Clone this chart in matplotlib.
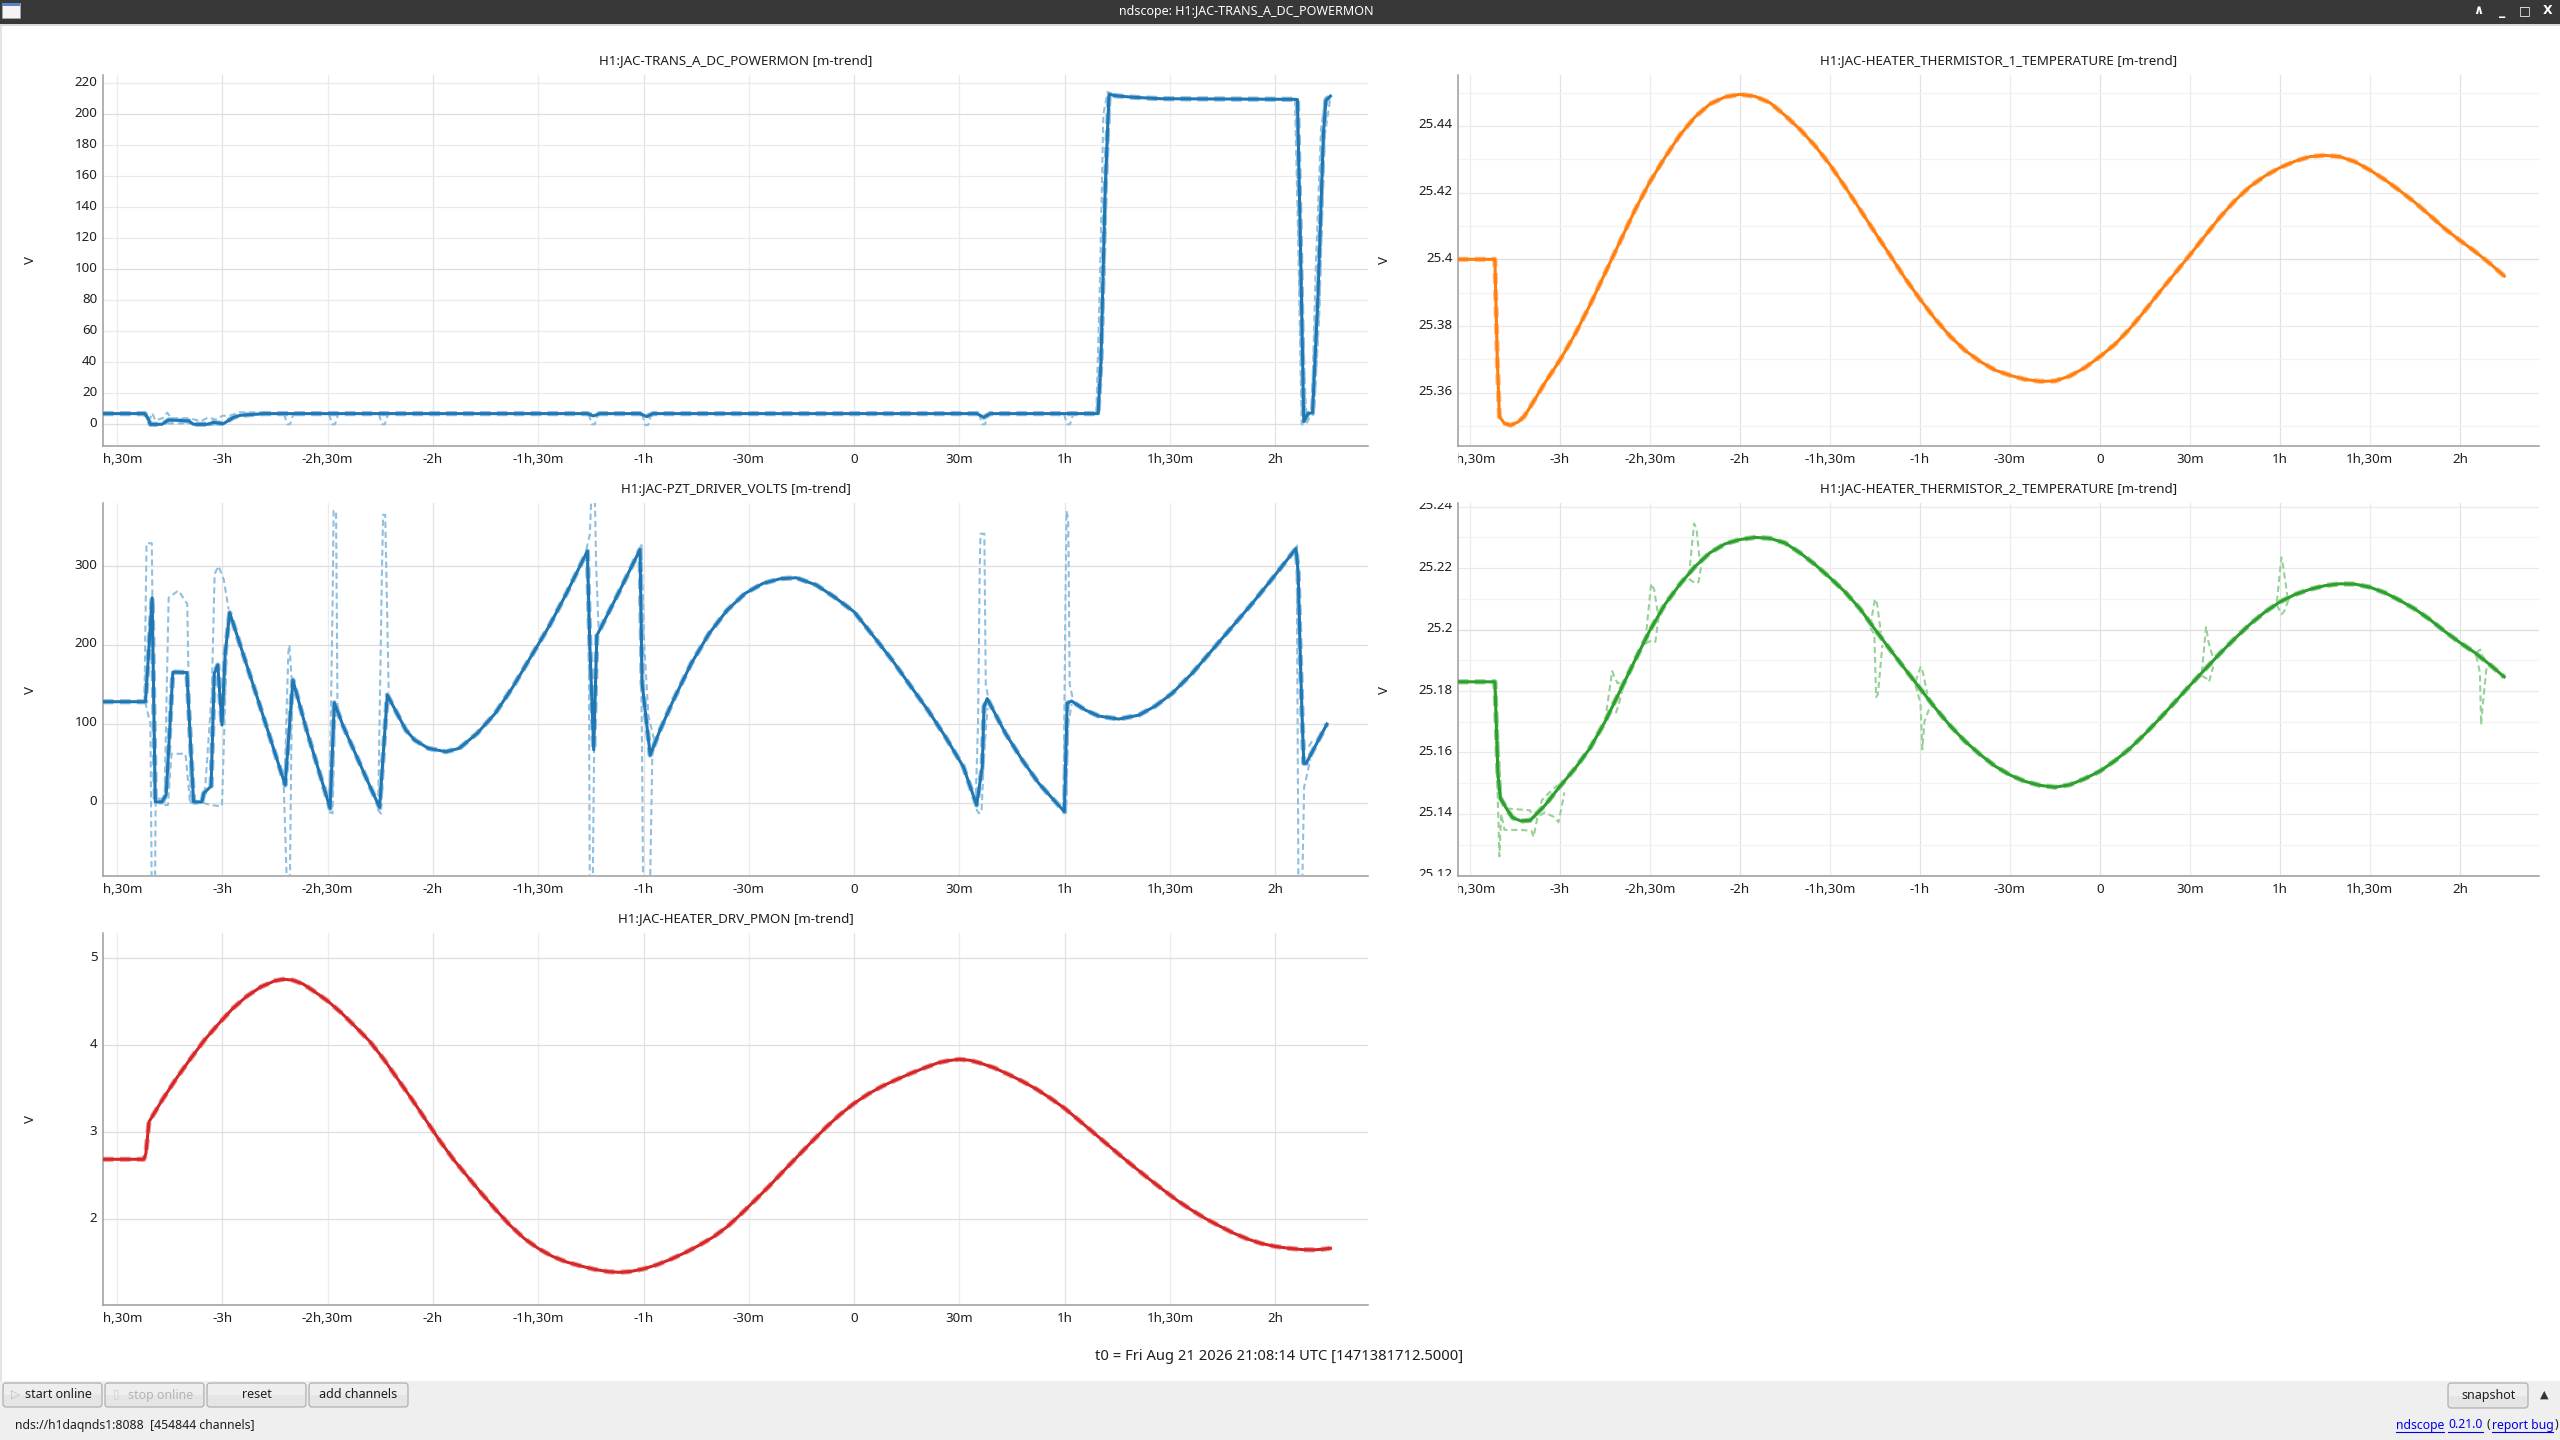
import matplotlib
matplotlib.use("Agg")
import matplotlib.pyplot as plt
import matplotlib.transforms as mtransforms
from matplotlib.patches import Rectangle, FancyBboxPatch
from matplotlib.lines import Line2D

# ------------------------------------------------------------------
# DATA  (time axis in minutes relative to t0)
# ------------------------------------------------------------------
xtick_pos = [-210, -180, -150, -120, -90, -60, -30, 0, 30, 60, 90, 120]
xtick_lab = ['-3h,30m', '-3h', '-2h,30m', '-2h', '-1h,30m', '-1h', '-30m', '0',
             '30m', '1h', '1h,30m', '2h']
x_hours = [-180, -120, -60, 0, 60, 120]
x_halfhours = [-210, -150, -90, -30, 30, 90]

# ---- H1:JAC-TRANS_A_DC_POWERMON ----
trans_t = [-214.0, -202.1, -201.2, -200.5, -197.2, -195.3, -189.6, -188.2, -184.4, -182.5,
           -179.7, -176.8, -174.9, -168.3, -76.0, -74.3, -72.5, -61.0, -59.1, -57.3,
           35.0, 36.9, 38.8, 69.5, 70.3, 71.5, 72.6, 74.6, 79.7, 87.3,
           125.5, 126.3, 127.0, 128.1, 129.3, 130.6, 132.1, 133.7, 134.4, 135.7]
trans_mean = [6.9, 6.9, 4.0, 0.0, 0.0, 2.8, 2.2, 0.0, 0.0, 1.2,
              0.4, 4.5, 5.8, 6.9, 6.9, 5.4, 6.9, 6.9, 5.0, 6.9,
              6.9, 4.5, 6.9, 6.9, 40.0, 150.0, 212.9, 212.0, 211.0, 210.1,
              209.7, 209.5, 134.0, 1.7, 7.0, 7.4, 80.0, 187.7, 209.0, 211.8]
trans_hi_spikes = [
    ([-202.5, -201.4, -200.9, -200.0, -199.1, -197.0, -195.7, -194.5, -189.5, -186.0,
      -184.0, -182.0, -180.0, -178.0, -175.0, -168.3],
     [7.3, 5.5, 2.0, 7.3, 2.5, 4.0, 7.5, 3.9, 3.9, 2.0, 4.5, 3.0, 5.5, 5.5, 7.7, 7.7]),
    ([69.0, 70.0, 71.0, 72.2, 74.0], [7.3, 90.0, 200.0, 214.5, 213.0]),
    ([125.9, 126.9, 128.3, 128.8, 130.4, 131.5, 133.0, 134.2, 135.5],
     [210.5, 150.0, 30.0, 8.0, 8.0, 100.0, 190.0, 210.5, 212.8]),
]
trans_lo_spikes = [
    ([-202.0, -200.8, -195.5, -189.0, -184.0, -180.0, -178.0, -175.0, -168.3],
     [6.5, -0.5, 0.5, 0.5, -0.4, -0.4, 3.0, 5.5, 6.5]),
    ([-162.4, -161.5, -160.7, -159.8], [6.5, 0.0, 0.0, 6.5]),
    ([-149.6, -148.7, -147.9, -147.0], [6.5, 0.0, 0.0, 6.5]),
    ([-135.4, -134.5, -133.7, -132.8], [6.5, 0.0, 0.0, 6.5]),
    ([-75.6, -74.7, -73.9, -73.0], [6.5, 0.0, 0.0, 6.5]),
    ([-60.4, -59.5, -58.7, -57.8], [6.5, -0.5, -0.5, 6.5]),
    ([35.6, 36.5, 37.3, 38.2], [6.5, 0.0, 0.0, 6.5]),
    ([59.8, 60.7, 61.5, 62.4], [6.5, 0.0, 0.0, 6.5]),
    ([69.8, 70.8, 72.0, 73.0], [6.6, 50.0, 160.0, 211.5]),
    ([125.6, 126.5, 127.5, 128.8, 129.8, 131.0, 132.5, 134.0, 135.7],
     [209.2, 120.0, 0.0, 0.0, 5.0, 6.5, 70.0, 185.0, 211.0]),
]

# ---- H1:JAC-PZT_DRIVER_VOLTS ----
pzt_t = [-214.0, -201.9, -200.0, -199.1, -197.2, -196.0, -194.1, -190.1, -188.2, -185.8,
         -185.3, -183.2, -182.3, -181.3, -180.1, -179.2, -177.9, -170.1, -162.1, -159.9,
         -156.0, -152.0, -149.3, -148.1, -145.5, -141.7, -137.9, -135.2, -133.0, -130.2,
         -127.7, -125.2, -121.3, -116.3, -112.5, -107.4, -102.3, -97.2, -92.1, -87.0,
         -82.0, -76.0, -75.3, -74.2, -73.3, -67.0, -61.0, -60.4, -58.1, -55.3,
         -51.5, -46.4, -41.3, -36.2, -31.1, -26.0, -21.0, -16.5, -10.8, -5.7,
         0.0, 5.7, 10.8, 15.9, 21.0, 26.0, 31.1, 34.9, 36.5, 37.0,
         37.9, 43.1, 47.9, 52.6, 59.9, 60.7, 61.9, 65.9, 69.7, 75.4,
         81.1, 85.8, 90.6, 96.3, 102.0, 107.7, 113.4, 119.1, 125.9, 126.5,
         127.2, 127.6, 128.1, 128.8, 134.7]
pzt_mean = [128, 128, 260, 1, 1, 10, 165.6, 165, 1, 1,
            11.8, 21, 164, 174.5, 98.4, 189, 240.8, 134, 22.4, 155.4,
            92, 33, -7.2, 126.7, 96.3, 58.3, 20.3, -6, 136.5, 113,
            92, 79.4, 68.9, 64.6, 68.9, 87.9, 113, 147, 185, 223,
            265, 319, 200, 67, 212, 267, 321, 151, 60.4, 92,
            130, 176.6, 214.6, 244, 265.3, 278, 284, 285.2, 276, 261,
            242, 210, 181, 149, 117.4, 83.6, 45.6, -3, 45.6, 121.7,
            132, 88, 54, 24.5, -11.4, 126, 128.9, 117.4, 109.8, 106,
            111, 122.5, 138.6, 164, 193.5, 223, 252.6, 284, 322.3, 292,
            172, 113, 50, 50, 99.7]
pzt_hi_spikes = [
    ([-202.2, -201.6, -200.1, -199.3, -197.2], [128, 329, 329, 5, 5]),
    ([-196.5, -195.3, -192.5, -190.0, -189.0, -186.0], [0, 260, 269, 252, 0, 0]),
    ([-186.0, -185.0, -183.0, -182.2, -181.1, -179.6, -178.2], [0, 12, 140, 290, 300, 283, 245]),
    ([-162.3, -161.2, -160.9, -160.3, -159.6], [23, 190, 200, 160, 150]),
    ([-149.5, -148.6, -148.3, -147.6, -147.2, -146.5], [-5, 250, 370, 370, 125, 110]),
    ([-135.6, -134.5, -134.2, -133.6, -132.6], [-4, 300, 365, 365, 140]),
    ([-76.3, -75.3, -74.6, -74.0, -73.5, -72.8], [321, 340, 420, 420, 300, 220]),
    ([-61.3, -60.6, -59.8, -58.6, -57.0], [318, 329, 200, 110, 80]),
    ([34.6, 35.3, 35.8, 36.0, 37.1, 37.5, 38.2], [-2, 100, 300, 341, 341, 150, 133]),
    ([59.6, 60.2, 60.5, 61.0, 61.4, 62.5], [-10, 250, 370, 360, 150, 128]),
    ([125.6, 126.2, 127.0, 127.8, 128.6, 129.5, 130.5], [322, 326, 200, 75, 70, 71, 78]),
]
pzt_lo_spikes = [
    ([-202.0, -200.5, -200.1, -199.2, -199.0, -197.2], [128, 100, -120, -120, 0, 0]),
    ([-196.5, -195.5, -194.5, -190.5, -189.2, -186.0], [-3, -3, 62, 62, 0, -2]),
    ([-185.5, -183.5, -181.5, -180.1, -179.4, -178.5], [0, -3, -4, -4, 100, 230]),
    ([-162.5, -161.5, -160.8, -160.2, -159.5], [20, -120, -120, 130, 150]),
    ([-149.6, -148.6, -148.0, -147.3], [-12, -13.5, 100, 122]),
    ([-135.8, -134.8, -134.0, -133.0], [-8, -14, 60, 130]),
    ([-76.2, -75.6, -75.3, -74.5, -73.9, -73.2], [315, 200, -120, -120, 150, 210]),
    ([-61.1, -60.5, -60.1, -58.2, -57.5, -56.5], [300, 100, -120, -120, 60, 78]),
    ([34.8, 35.5, 36.3, 37.0, 38.0], [-8, -13.5, -12, 60, 120]),
    ([59.6, 60.4, 61.0, 62.0], [-13.5, -13, 100, 125]),
    ([126.1, 126.6, 127.6, 128.2, 128.9, 130.0], [310, -120, -120, 20, 33, 55]),
]

# ---- H1:JAC-HEATER_THERMISTOR_1_TEMPERATURE ----
therm1_t = [-214.0, -201.7, -200.9, -200.2, -198.5, -196.5, -194.0, -192.0, -190.0, -185.0,
            -180.0, -175.0, -170.0, -165.0, -160.0, -155.0, -150.0, -145.0, -140.0, -135.0,
            -130.0, -125.0, -120.0, -115.0, -110.0, -105.0, -100.0, -95.0, -90.0, -85.0,
            -80.0, -75.0, -70.0, -65.0, -60.0, -55.0, -50.0, -45.0, -40.0, -35.0,
            -30.0, -25.0, -20.0, -15.0, -10.0, -5.0, 0.0, 5.0, 10.0, 15.0,
            20.0, 25.0, 30.0, 35.0, 40.0, 45.0, 50.0, 55.0, 60.0, 65.0,
            70.0, 75.0, 80.0, 85.0, 90.0, 95.0, 100.0, 105.0, 110.0, 115.0,
            120.0, 125.0, 130.0, 134.8]
therm1_mean = [25.4000, 25.4000, 25.3700, 25.3528, 25.3508, 25.3502, 25.3512, 25.3528, 25.3556, 25.3630,
               25.3698, 25.3775, 25.3863, 25.3958, 25.4053, 25.4148, 25.4233, 25.4306, 25.4373, 25.4427,
               25.4466, 25.4487, 25.4495, 25.4489, 25.4470, 25.4432, 25.4390, 25.4341, 25.4284, 25.4218,
               25.4150, 25.4081, 25.4013, 25.3944, 25.3881, 25.3822, 25.3770, 25.3727, 25.3694, 25.3668,
               25.3652, 25.3640, 25.3634, 25.3635, 25.3650, 25.3675, 25.3708, 25.3745, 25.3792, 25.3846,
               25.3903, 25.3958, 25.4013, 25.4070, 25.4126, 25.4176, 25.4218, 25.4250, 25.4275, 25.4294,
               25.4308, 25.4312, 25.4308, 25.4293, 25.4268, 25.4239, 25.4206, 25.4171, 25.4132, 25.4092,
               25.4057, 25.4024, 25.3988, 25.3950]

# ---- H1:JAC-HEATER_THERMISTOR_2_TEMPERATURE ----
therm2_t = [-214.0, -201.7, -200.7, -199.9, -197.5, -195.8, -193.0, -190.0, -185.0, -180.0,
            -175.0, -170.0, -165.0, -160.0, -155.0, -150.0, -145.0, -140.0, -135.0, -130.0,
            -125.0, -120.0, -115.0, -110.0, -105.0, -100.0, -95.0, -90.0, -85.0, -80.0,
            -75.0, -70.0, -65.0, -60.0, -55.0, -50.0, -45.0, -40.0, -35.0, -30.0,
            -25.0, -20.0, -15.0, -10.0, -5.0, 0.0, 5.0, 10.0, 15.0, 20.0,
            25.0, 30.0, 35.0, 40.0, 45.0, 50.0, 55.0, 60.0, 65.0, 70.0,
            75.0, 80.0, 85.0, 90.0, 95.0, 100.0, 105.0, 110.0, 115.0, 120.0,
            125.0, 130.0, 134.8]
therm2_mean = [25.1830, 25.1830, 25.1533, 25.1452, 25.1412, 25.1388, 25.1377, 25.1379, 25.1428, 25.1490,
               25.1548, 25.1614, 25.1700, 25.1800, 25.1900, 25.1998, 25.2082, 25.2148, 25.2205, 25.2250,
               25.2279, 25.2293, 25.2300, 25.2297, 25.2282, 25.2250, 25.2212, 25.2169, 25.2123, 25.2068,
               25.2001, 25.1936, 25.1872, 25.1809, 25.1746, 25.1688, 25.1637, 25.1594, 25.1556, 25.1527,
               25.1506, 25.1493, 25.1487, 25.1495, 25.1515, 25.1539, 25.1573, 25.1613, 25.1660, 25.1711,
               25.1764, 25.1818, 25.1870, 25.1922, 25.1971, 25.2017, 25.2057, 25.2090, 25.2114, 25.2131,
               25.2143, 25.2149, 25.2148, 25.2138, 25.2120, 25.2095, 25.2067, 25.2033, 25.1994, 25.1958,
               25.1925, 25.1886, 25.1846]
therm2_hi_spikes = [
    ([-201.5, -200.6, -199.5, -198.0, -193.0, -190.0, -189.0, -187.5, -186.0, -183.5, -181.0, -179.5, -178.5],
     [25.1833, 25.1650, 25.1435, 25.1418, 25.1414, 25.1412, 25.1385, 25.1395, 25.1445, 25.1470, 25.1492, 25.1492, 25.1500]),
    ([-164.5, -162.6, -161.8, -160.8, -159.5], [25.1735, 25.1865, 25.1845, 25.1825, 25.1830]),
    ([-151.5, -149.6, -148.6, -147.5], [25.1965, 25.2150, 25.2130, 25.2060]),
    ([-137.0, -135.3, -134.5, -133.3], [25.2175, 25.2345, 25.2330, 25.2215]),
    ([-76.5, -75.0, -74.3, -73.0], [25.2013, 25.2100, 25.2085, 25.1990]),
    ([-61.5, -59.7, -59.0, -57.5], [25.1830, 25.1880, 25.1860, 25.1790]),
    ([34.0, 35.4, 36.2, 37.5], [25.1860, 25.2010, 25.1960, 25.1915]),
    ([59.0, 60.5, 61.2, 62.5], [25.2090, 25.2235, 25.2200, 25.2110]),
    ([125.5, 126.8, 127.5, 129.0], [25.1925, 25.1935, 25.1915, 25.1895]),
]
therm2_lo_spikes = [
    ([-201.5, -200.9, -200.2, -199.6, -198.5, -193.0, -189.5, -188.8, -187.5, -185.0, -182.0, -180.5, -179.5, -178.5],
     [25.1830, 25.1500, 25.1262, 25.1400, 25.1348, 25.1348, 25.1345, 25.1325, 25.1390, 25.1405, 25.1390, 25.1373, 25.1420, 25.1470]),
    ([-164.5, -162.8, -161.3, -160.3, -159.0], [25.1725, 25.1735, 25.1730, 25.1760, 25.1815]),
    ([-151.5, -149.3, -148.2, -147.0], [25.1955, 25.1965, 25.1960, 25.2050]),
    ([-137.0, -134.8, -133.8, -132.5], [25.2165, 25.2150, 25.2155, 25.2230]),
    ([-76.5, -75.2, -74.6, -74.0, -72.5], [25.2005, 25.1985, 25.1780, 25.1790, 25.1950]),
    ([-61.5, -59.8, -59.2, -58.5, -57.0], [25.1820, 25.1760, 25.1610, 25.1700, 25.1740]),
    ([34.0, 35.6, 36.4, 37.8], [25.1850, 25.1840, 25.1830, 25.1880]),
    ([59.0, 60.6, 61.5, 63.0], [25.2080, 25.2050, 25.2060, 25.2100]),
    ([125.5, 126.7, 127.1, 127.7, 129.0], [25.1915, 25.1860, 25.1690, 25.1760, 25.1885]),
]

# ---- H1:JAC-HEATER_DRV_PMON ----
pmon_t = [-214.0, -202.4, -201.8, -200.9, -197.0, -193.0, -189.0, -185.0, -181.0, -177.0,
          -173.0, -169.0, -165.0, -162.7, -160.0, -157.0, -154.0, -150.0, -146.0, -142.0,
          -138.0, -134.0, -130.0, -126.0, -122.0, -118.0, -114.0, -110.0, -106.0, -102.0,
          -98.0, -94.0, -90.0, -86.0, -82.0, -78.0, -74.0, -70.0, -67.0, -64.0,
          -60.0, -56.0, -52.0, -48.0, -44.0, -40.0, -36.0, -32.0, -28.0, -24.0,
          -20.0, -16.0, -12.0, -8.0, -4.0, 0.0, 4.0, 8.0, 12.0, 16.0,
          20.0, 24.0, 27.0, 30.0, 33.0, 36.0, 40.0, 44.0, 48.0, 52.0,
          56.0, 60.0, 64.0, 68.0, 72.0, 76.0, 80.0, 84.0, 88.0, 92.0,
          96.0, 100.0, 104.0, 108.0, 112.0, 116.0, 120.0, 124.0, 128.0, 131.0,
          133.5, 135.7]
pmon_mean = [2.69, 2.69, 2.75, 3.12, 3.38, 3.625, 3.85, 4.065, 4.25, 4.425,
             4.565, 4.672, 4.742, 4.759, 4.75, 4.705, 4.625, 4.51, 4.37, 4.21,
             4.045, 3.84, 3.61, 3.38, 3.14, 2.90, 2.68, 2.485, 2.29, 2.105,
             1.93, 1.78, 1.665, 1.575, 1.51, 1.465, 1.425, 1.398, 1.391, 1.398,
             1.43, 1.48, 1.545, 1.62, 1.705, 1.80, 1.92, 2.07, 2.228, 2.39,
             2.56, 2.728, 2.895, 3.058, 3.205, 3.333, 3.44, 3.53, 3.605, 3.675,
             3.74, 3.80, 3.825, 3.839, 3.828, 3.795, 3.74, 3.665, 3.585, 3.495,
             3.39, 3.275, 3.14, 3.003, 2.865, 2.728, 2.595, 2.465, 2.34, 2.218,
             2.11, 2.011, 1.925, 1.843, 1.775, 1.722, 1.688, 1.666, 1.651, 1.649,
             1.656, 1.667]

# y ticks
trans_yticks = [0, 20, 40, 60, 80, 100, 120, 140, 160, 180, 200, 220]
trans_ylabels = ['0', '20', '40', '60', '80', '100', '120', '140', '160', '180', '200', '220']
pzt_yticks = [0, 100, 200, 300]
pzt_ylabels = ['0', '100', '200', '300']
therm1_yticks = [25.36, 25.38, 25.40, 25.42, 25.44]
therm1_ylabels = ['25.36', '25.38', '25.4', '25.42', '25.44']
therm2_yticks = [25.12, 25.14, 25.16, 25.18, 25.20, 25.22, 25.24]
therm2_ylabels = ['25.12', '25.14', '25.16', '25.18', '25.2', '25.22', '25.24']
pmon_yticks = [2, 3, 4, 5]
pmon_ylabels = ['2', '3', '4', '5']

titles = ['H1:JAC-TRANS_A_DC_POWERMON [m-trend]',
          'H1:JAC-HEATER_THERMISTOR_1_TEMPERATURE [m-trend]',
          'H1:JAC-PZT_DRIVER_VOLTS [m-trend]',
          'H1:JAC-HEATER_THERMISTOR_2_TEMPERATURE [m-trend]',
          'H1:JAC-HEATER_DRV_PMON [m-trend]']

# ------------------------------------------------------------------
# FIGURE
# ------------------------------------------------------------------
W, H, DPI = 2560, 1440, 100
plt.rcParams['font.family'] = ['Noto Sans', 'DejaVu Sans']
fig = plt.figure(figsize=(W / DPI, H / DPI), dpi=DPI)
fig.patch.set_facecolor('white')
PX = mtransforms.Affine2D().scale(1, -1).translate(0, H)   # pixel coords, origin top-left

XMIN, XMAX = -214.0, 146.4
FS = 9.6
TC = '#1e1e1e'

BLUE, BLUE_L = '#1f77b4', '#90bfe0'
ORANGE, ORANGE_L = '#ff7f0e', '#ffbf88'
GREEN, GREEN_L = '#2ca02c', '#98d198'
RED, RED_L = '#d62728', '#ec9a9a'


def add_axes_px(l, t, r, b):
    return fig.add_axes([l / W, 1 - b / H, (r - l) / W, (b - t) / H])


def setup(ax, ylim, yticks, ylabels, ydark, ylight, title, ylabel_x):
    ax.set_xlim(XMIN, XMAX)
    ax.set_ylim(*ylim)
    ax.set_facecolor('white')
    for s in ['top', 'right']:
        ax.spines[s].set_visible(False)
    for s in ['left', 'bottom']:
        ax.spines[s].set_color('#9c9c9c')
        ax.spines[s].set_linewidth(1.1)
    ax.set_xticks([])
    ax.set_yticks([])
    for p in x_hours:
        ax.axvline(p, color='#e2e2e2', lw=0.9, zorder=0)
    for p in x_halfhours:
        ax.axvline(p, color='#ececec', lw=0.9, zorder=0)
    for p in yticks:
        col = '#dedede' if p in ydark else '#eaeaea'
        ax.axhline(p, color=col, lw=0.9, zorder=0)
    for p in ylight:
        ax.axhline(p, color='#f3f3f3', lw=0.9, zorder=0)
    # x tick labels (clipped to axis width like pyqtgraph)
    trx = (mtransforms.blended_transform_factory(ax.transData, ax.transAxes)
           + mtransforms.ScaledTranslation(0, -13.5 / DPI, fig.dpi_scale_trans))
    clipx = mtransforms.TransformedBbox(mtransforms.Bbox([[0, -1], [1, 2]]), ax.transAxes)
    for p, s in zip(xtick_pos, xtick_lab):
        txt = fig.text(p, 0, s, transform=trx, ha='center', va='center', fontsize=FS, color=TC)
        txt.set_clip_box(clipx)
        txt.set_clip_on(True)
    # y tick labels (clipped to axis height)
    tr_y = (mtransforms.blended_transform_factory(ax.transAxes, ax.transData)
            + mtransforms.ScaledTranslation(-5.5 / DPI, 1.0 / DPI, fig.dpi_scale_trans))
    clipy = mtransforms.TransformedBbox(mtransforms.Bbox([[-1, 0], [2, 1]]), ax.transAxes)
    for p, s in zip(yticks, ylabels):
        if ylim[0] <= p <= ylim[1] + 0.02 * (ylim[1] - ylim[0]):
            txt = fig.text(0, p, s, transform=tr_y, ha='right', va='center', fontsize=FS, color=TC)
            txt.set_clip_box(clipy)
            txt.set_clip_on(True)
    # title
    trt = ax.transAxes + mtransforms.ScaledTranslation(0, 14.5 / DPI, fig.dpi_scale_trans)
    fig.text(0.5, 1, title, transform=trt, ha='center', va='center', fontsize=FS, color=TC)
    # y axis label
    fig.text(ylabel_x, 0.5, 'V', transform=mtransforms.blended_transform_factory(PX, ax.transAxes),
             rotation=90, ha='center', va='center', fontsize=FS, color=TC)


def draw_series(ax, t, v, color, light, hi=(), lo=()):
    ax.plot(t, v, color=light, lw=3.8, ls=(0, (2.0, 1.2)), zorder=2)
    for gt, gv in list(hi) + list(lo):
        ax.plot(gt, gv, color=light, lw=1.5, ls=(0, (3.0, 1.8)), zorder=3)
    ax.plot(t, v, color=color, lw=2.2, zorder=4, solid_joinstyle='round')


# ---- axes ----
ax1 = add_axes_px(103, 75, 1368, 446)
ax2 = add_axes_px(1458, 75, 2539, 446)
ax3 = add_axes_px(103, 503, 1368, 876)
ax4 = add_axes_px(1458, 503, 2539, 876)
ax5 = add_axes_px(103, 933, 1368, 1305)

setup(ax1, (-14.0, 225.4), trans_yticks, trans_ylabels, [0, 100, 200], [], titles[0], 30)
setup(ax2, (25.344, 25.4553), therm1_yticks, therm1_ylabels, [25.40],
      [25.35, 25.37, 25.39, 25.41, 25.43, 25.45], titles[1], 1385)
setup(ax3, (-93.0, 380.0), pzt_yticks, pzt_ylabels, [0, 100, 200, 300], [], titles[2], 30)
setup(ax4, (25.1198, 25.2412), therm2_yticks, therm2_ylabels, [25.20],
      [25.13, 25.15, 25.17, 25.19, 25.21, 25.23], titles[3], 1385)
setup(ax5, (1.015, 5.291), pmon_yticks, pmon_ylabels, [2, 3, 4, 5], [], titles[4], 30)

draw_series(ax1, trans_t, trans_mean, BLUE, BLUE_L, trans_hi_spikes, trans_lo_spikes)
draw_series(ax2, therm1_t, therm1_mean, ORANGE, ORANGE_L)
draw_series(ax3, pzt_t, pzt_mean, BLUE, BLUE_L, pzt_hi_spikes, pzt_lo_spikes)
draw_series(ax4, therm2_t, therm2_mean, GREEN, GREEN_L, therm2_hi_spikes, therm2_lo_spikes)
draw_series(ax5, pmon_t, pmon_mean, RED, RED_L)

# ------------------------------------------------------------------
# Window chrome
# ------------------------------------------------------------------
def rect_px(l, t, r, b, **kw):
    fig.patches.append(Rectangle((l, t), r - l, b - t, transform=PX, **kw))


def text_px(x, y, s, **kw):
    kw.setdefault('fontsize', 9)
    kw.setdefault('color', TC)
    return fig.text(x, y, s, transform=PX, **kw)


def button_px(l, t, r, b, label, color=TC, icon=None, icon_color='#b8b8b8'):
    fig.patches.append(FancyBboxPatch((l, t), r - l, b - t, transform=PX,
                                      boxstyle='round,pad=0,rounding_size=3',
                                      facecolor='#e5e5e5', edgecolor='#a9a9a9', lw=0.8))
    fig.patches.append(Rectangle((l + 1, t + 1), r - l - 2, (b - t) / 2 - 1, transform=PX,
                                 facecolor='#eeeeee', edgecolor='none'))
    cx, cy = (l + r) / 2, (t + b) / 2
    if icon is None:
        text_px(cx, cy, label, ha='center', va='center', fontsize=9, color=color)
    else:
        text_px(l + 8, cy, icon, ha='left', va='center', fontsize=8.5, color=icon_color,
                family=['DejaVu Sans'])
        text_px(cx + 6, cy, label, ha='center', va='center', fontsize=9, color=color)


# title bar
rect_px(0, 0, W, 24, facecolor='#383838', edgecolor='none')
rect_px(0, 24, W, 26, facecolor='#d9d9d9', edgecolor='none')
rect_px(2, 3, 20, 18, facecolor='#f4f4f4', edgecolor='#9aa6b8', lw=0.6)
rect_px(2, 3, 20, 6, facecolor='#5b84c4', edgecolor='none')
text_px(1246, 12, 'ndscope: H1:JAC-TRANS_A_DC_POWERMON', ha='center', va='center',
        fontsize=9, color='white')
for xx, ch in zip([2478, 2502, 2525, 2548], ['\u2227', '_', '\u25a1', 'X']):
    text_px(xx, 11, ch, ha='center', va='center', fontsize=9, color='white',
            family=['DejaVu Sans'], fontweight='bold')

# left edge
rect_px(0, 26, 2, 1381, facecolor='#e4e4e4', edgecolor='none')

# t0 text
text_px(1279, 1357, 't0 = Fri Aug 21 2026 21:08:14 UTC [1471381712.5000]', ha='center',
        va='center', fontsize=10.6)

# bottom panel
rect_px(0, 1381, W, H, facecolor='#efefef', edgecolor='none')
button_px(3, 1383, 102, 1407, 'start online', icon='\u25b7')
button_px(105, 1383, 204, 1407, 'stop online', color='#b4b4b4', icon='\u25af', icon_color='#cfcfcf')
button_px(207, 1383, 306, 1407, 'reset')
button_px(309, 1383, 408, 1407, 'add channels')
button_px(2448, 1383, 2528, 1408, 'snapshot')
text_px(2544, 1395, '\u25b2', ha='center', va='center', fontsize=8, color='#333333',
        family=['DejaVu Sans'])

text_px(15, 1425, 'nds://h1daqnds1:8088  [454844 channels]', ha='left', va='center', fontsize=8.8)

# version links, laid out right to left using measured widths
# (text, colour, underlined, gap in px to the left of the piece)
LINK = '#0000ee'
renderer = fig.canvas.get_renderer()
parts = [('ndscope', LINK, True, 0), ('0.21.0', LINK, True, 4), ('(', TC, False, 4),
         ('report bug', LINK, True, 1), (')', TC, False, 1)]
xr = 2558
for s, col, ul, gap in reversed(parts):
    txt = text_px(xr, 1425, s, ha='right', va='center', fontsize=8.8, color=col)
    w = txt.get_window_extent(renderer).width
    if ul:
        fig.add_artist(Line2D([xr - w, xr], [1432, 1432], transform=PX, color=LINK, lw=0.8))
    xr -= w + gap

fig.savefig('out.png', dpi=DPI, facecolor='white')
